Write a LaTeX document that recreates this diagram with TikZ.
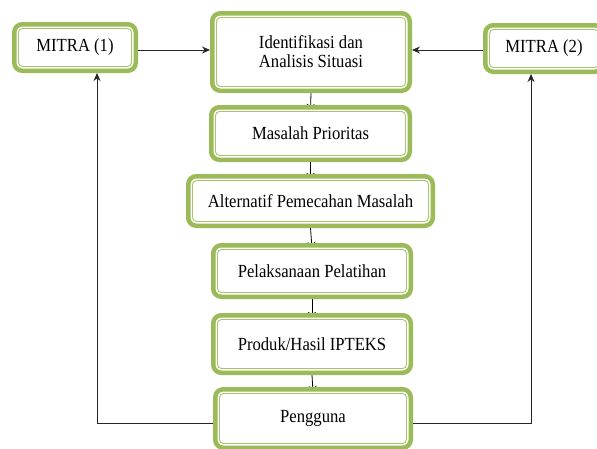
\documentclass[tikz,border=0pt]{standalone}
\usepackage{fontspec}
\setmainfont{Liberation Serif}
\usetikzlibrary{arrows.meta}
\definecolor{gOut}{HTML}{9BBB59}
\definecolor{gIn}{HTML}{A9C46C}
\pgfdeclarelayer{bg}
\pgfsetlayers{bg,main}
\newcommand{\sq}[1]{\scalebox{0.9}[1]{#1}}
\begin{document}
\begin{tikzpicture}[x=1pt,y=-1pt,
  gbox/.style={draw=gOut, line width=4.5pt, rounded corners=8pt, fill=white, inner sep=0pt, align=center, font=\rmfamily\fontsize{18.5}{19}\selectfont},
  inbox/.style={draw=gIn, line width=0.9pt, rounded corners=4pt},
  flow/.style={draw=black, line width=0.8pt, -{Stealth[length=6pt,width=8pt]}},
  back/.style={draw=black!85, line width=0.9pt, -{Stealth[length=8pt,width=7pt]}}]
\useasboundingbox (0,0) rectangle (597,448);
\node[gbox, minimum width=121.5pt, minimum height=46.5pt] (m1) at (75,47.5) {\sq{MITRA (1)}};
\node[gbox, minimum width=197.5pt, minimum height=77.5pt] (id) at (311,52) {\sq{Identifikasi dan}\\\sq{Analisis Situasi}};
\node[gbox, minimum width=117.5pt, minimum height=46.5pt] (m2) at (544,48.5) {\sq{MITRA (2)}};
\node[gbox, minimum width=198.5pt, minimum height=52.5pt] (mp) at (310.5,133.5) {\sq{Masalah Prioritas}};
\node[gbox, minimum width=244.5pt, minimum height=49.5pt] (alt) at (310.5,201) {\sq{Alternatif Pemecahan Masalah}};
\node[gbox, minimum width=197.5pt, minimum height=51.5pt] (pel) at (312,271) {\sq{Pelaksanaan Pelatihan}};
\node[gbox, minimum width=197.5pt, minimum height=57.5pt] (prod) at (312,344) {\sq{Produk/Hasil IPTEKS}};
\node[gbox, minimum width=195.5pt, minimum height=58.5pt] (pg) at (313,418.5) {\sq{Pengguna}};
\foreach \n in {m1,id,m2,mp,alt,pel,prod,pg}
  \draw[inbox] ([shift={(6.5,6.5)}]\n.north west) rectangle ([shift={(-6.5,-6.5)}]\n.south east);
\begin{pgfonlayer}{bg}
  \draw[flow] (id.south) -- ([yshift=-5pt]mp.north);
  \draw[flow] (mp.south) -- ([yshift=-5pt]alt.north);
  \draw[flow] (alt.south) -- ([yshift=-5pt]pel.north);
  \draw[flow] (pel.south) -- ([yshift=-5pt]prod.north);
  \draw[flow] (prod.south) -- ([yshift=-5pt]pg.north);
\end{pgfonlayer}
\path (m1.east) ++(0,2.5) coordinate (a1);
\path (m2.west) ++(0,1.5) coordinate (a2);
\draw[back] (a1) -- (a1 -| id.west);
\draw[back] (a2) -- (a2 -| id.east);
\coordinate (L) at (97,423);
\coordinate (R) at (531,423);
\draw[back] (pg.west |- L) -- (L) -- (L |- m1.south);
\draw[back] (pg.east |- R) -- (R) -- (R |- m2.south);
\end{tikzpicture}
\end{document}
